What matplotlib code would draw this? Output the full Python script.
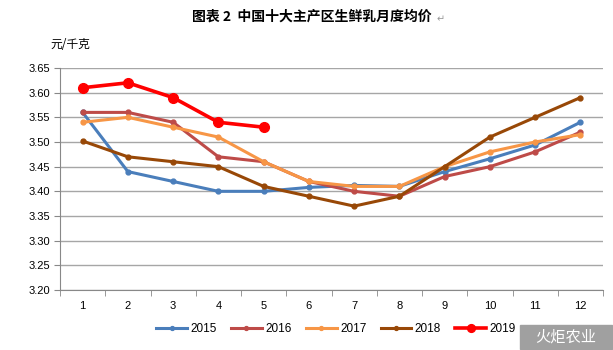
import matplotlib.pyplot as plt
from matplotlib.patches import Rectangle

plt.rcParams['font.family'] = ['Liberation Sans', 'Noto Sans CJK SC', 'DejaVu Sans']

months = list(range(1, 13))
p2015 = [3.56, 3.44, 3.42, 3.40, 3.40, 3.408, 3.412, 3.41, 3.44, 3.466, 3.494, 3.54]
p2016 = [3.56, 3.56, 3.54, 3.47, 3.46, 3.42, 3.40, 3.39, 3.43, 3.45, 3.48, 3.52]
p2017 = [3.54, 3.55, 3.53, 3.51, 3.46, 3.42, 3.41, 3.41, 3.45, 3.48, 3.50, 3.515]
p2018 = [3.502, 3.47, 3.46, 3.45, 3.41, 3.39, 3.37, 3.39, 3.45, 3.51, 3.55, 3.59]
p2019 = [3.61, 3.62, 3.59, 3.54, 3.53]
years = ['2015', '2016', '2017', '2018', '2019']
colors = ['#4A7EBB', '#BE4B48', '#F79646', '#984807', '#FF0000']

fig = plt.figure(figsize=(6.13, 3.5), dpi=100)
ax = fig.add_axes([60 / 613, 1 - 290 / 350, 543 / 613, 222 / 350])

series = [p2015, p2016, p2017, p2018, p2019]
for i, (y, c, lab) in enumerate(zip(series, colors, years)):
    x = months[:len(y)]
    if lab == '2019':
        ax.plot(x, y, color=c, lw=2.6, marker='o', ms=7, label=lab, zorder=5)
    else:
        ax.plot(x, y, color=c, lw=2.2, marker='o', ms=3.5, label=lab, zorder=3 + i * 0.1)

ax.set_xlim(0.5, 12.5)
ax.set_ylim(3.20, 3.65)
ax.set_yticks([3.20 + 0.05 * k for k in range(10)])
ax.set_yticklabels(['%.2f' % (3.20 + 0.05 * k) for k in range(10)], fontsize=8)
ax.set_xticks(months)
ax.set_xticklabels([str(m) for m in months], fontsize=8)
ax.set_xticks([m + 0.5 for m in range(0, 13)], minor=True)
ax.tick_params(axis='x', which='major', length=0, pad=8)
ax.tick_params(axis='x', which='minor', length=4, color='#888888', direction='out')
ax.tick_params(axis='y', length=4, color='#888888', direction='out', pad=3)
ax.grid(axis='y', color='#A6A6A6', lw=1)
ax.set_axisbelow(True)
for s in ['top', 'right']:
    ax.spines[s].set_visible(False)
for s in ['left', 'bottom']:
    ax.spines[s].set_color('#888888')

fig.text(312 / 613, 1 - 17 / 350, '图表 2  中国十大主产区生鲜乳月度均价', ha='center', va='center',
         fontsize=10, fontweight='bold', family=['Noto Sans CJK SC', 'DejaVu Sans'])
fig.text(437 / 613, 1 - 19 / 350, '↵', ha='left', va='center', fontsize=7, color='#999999',
         family=['DejaVu Sans'])
fig.text(50 / 613, 1 - 45 / 350, '元/千克', ha='left', va='center', fontsize=8.5,
         family=['Noto Sans CJK SC', 'DejaVu Sans'])

leg = fig.legend(loc='center', bbox_to_anchor=(336 / 613, 1 - 329 / 350), ncol=5, frameon=False,
                 fontsize=8.5, handlelength=2.6, columnspacing=1.2, handletextpad=0.3,
                 markerscale=0.8)

fig.patches.append(Rectangle((520 / 613, 0.003), 92 / 613, 24 / 350, transform=fig.transFigure,
                             color='#A0A0A0', zorder=0))
fig.text(566 / 613, 1 - 337 / 350, '火炬农业', ha='center', va='center', fontsize=11,
         color='white', style='italic', family=['Noto Sans CJK SC', 'DejaVu Sans'])

fig.savefig('out.png', dpi=100)
